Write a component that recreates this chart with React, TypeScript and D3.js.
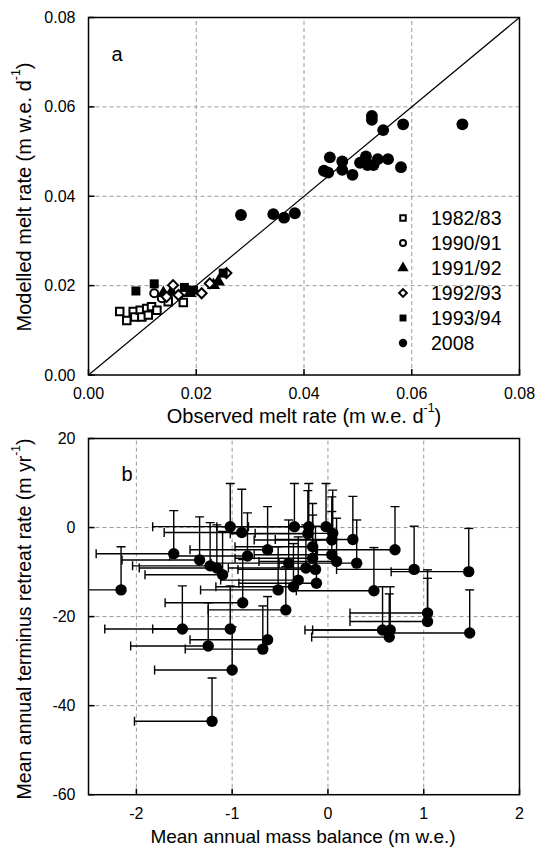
import React, { useEffect, useRef } from 'react';
import * as d3 from 'd3';

// panel a: observed vs modelled melt rate (m w.e. d-1), one pair of arrays per season
const obs8283 = [0.0058, 0.0071, 0.0083, 0.0086, 0.0096, 0.0099, 0.0108, 0.0111, 0.0117, 0.0127, 0.0148, 0.0176];
const mod8283 = [0.0142, 0.0122, 0.0142, 0.0130, 0.0145, 0.0130, 0.0149, 0.0134, 0.0153, 0.0145, 0.0164, 0.0162];
const obs9091 = [0.0122, 0.0136];
const mod9091 = [0.0183, 0.0172];
const obs9192 = [0.0139, 0.0154, 0.0188, 0.0232, 0.0241];
const mod9192 = [0.0183, 0.0186, 0.0183, 0.0201, 0.0209];
const obs9293 = [0.0145, 0.0157, 0.0167, 0.0210, 0.0225, 0.0256];
const mod9293 = [0.0175, 0.0201, 0.0179, 0.0183, 0.0205, 0.0228];
const obs9394 = [0.0088, 0.0122, 0.0178, 0.0195, 0.0250];
const mod9394 = [0.0188, 0.0204, 0.0196, 0.0190, 0.0228];
const obs2008 = [0.0283, 0.0343, 0.0363, 0.0383, 0.0437, 0.0445, 0.0448, 0.0471, 0.0471, 0.0490, 0.0504,
  0.0515, 0.0518, 0.0529, 0.0537, 0.0556, 0.0580, 0.0526, 0.0526, 0.0584, 0.0694, 0.0547];
const mod2008 = [0.0358, 0.0360, 0.0352, 0.0362, 0.0457, 0.0453, 0.0487, 0.0478, 0.0459, 0.0448, 0.0475,
  0.0489, 0.0470, 0.0470, 0.0483, 0.0483, 0.0465, 0.0580, 0.0571, 0.0561, 0.0561, 0.0548];

const seasonLabels = ['1982/83', '1990/91', '1991/92', '1992/93', '1993/94', '2008'];
const meltTicks = [0, 0.02, 0.04, 0.06, 0.08];

// panel b: mean annual mass balance (m w.e.) vs terminus retreat rate (m yr-1)
const massBalance = [-2.16, -1.61, -1.34, -1.23, -1.16, -1.10, -0.89, -1.52, -1.02, -1.25, -1.00, -1.21,
  -0.63, -0.68, -0.44, -0.52, -0.36, -0.63, -0.84, -0.41, -1.02, -0.90, -0.35, -0.20, -0.21, -0.02,
  0.05, 0.26, 0.70, 0.90, 1.47, 1.04, 1.04, 0.48, 0.57, 0.65, 0.64, 1.48, 0.30, 0.09, 0.04, 0.04,
  -0.16, -0.16, -0.13, -0.12, -0.23, -0.31];
const retreatRate = [-14.0, -5.9, -7.3, -8.6, -9.1, -10.6, -16.9, -22.8, -22.8, -26.6, -32.0, -43.5,
  -25.2, -27.3, -18.5, -14.0, -13.3, -5.0, -6.4, -8.0, 0.2, -1.1, 0.2, 0.2, -1.4, 0.2,
  -1.3, -2.7, -5.0, -9.4, -9.9, -19.2, -21.1, -14.2, -23.0, -23.0, -24.6, -23.7, -8.0, -7.6, -6.1, -2.8,
  -4.3, -6.9, -9.4, -12.5, -9.1, -11.8];
const massBalanceError = 0.81; // drawn to the left
const retreatError = 9.7; // drawn upward
const balanceTicks = [-2, -1, 0, 1, 2];
const retreatTicks = [-60, -40, -20, 0, 20];

const W = 538;
const H = 849;
const font = 'Arial, "Liberation Sans", sans-serif';

const App = () => {
  const svgRef = useRef(null);

  useEffect(() => {
    const svg = d3.select(svgRef.current);
    svg.selectAll('*').remove();
    svg.attr('width', W).attr('height', H).style('font-family', font);

    const left = 88.5;
    const right = 519.5;

    // ---------- panel a ----------
    const xA = d3.scaleLinear().domain([0, 0.08]).range([left, right]);
    const yA = d3.scaleLinear().domain([0, 0.08]).range([375, 17.5]);

    // ---------- panel b ----------
    const xB = d3.scaleLinear().domain([-2.5, 2]).range([left, right]);
    const yB = d3.scaleLinear().domain([-60, 20]).range([794.7, 438.5]);

    const grid = (g, xs, ys, xv, yv) => {
      g.selectAll('.gx').data(xv).enter().append('line')
        .attr('x1', d => xs(d)).attr('x2', d => xs(d))
        .attr('y1', ys.range()[0]).attr('y2', ys.range()[1])
        .attr('stroke', '#9a9a9a').attr('stroke-width', 1).attr('stroke-dasharray', '4,3');
      g.selectAll('.gy').data(yv).enter().append('line')
        .attr('y1', d => ys(d)).attr('y2', d => ys(d))
        .attr('x1', xs.range()[0]).attr('x2', xs.range()[1])
        .attr('stroke', '#9a9a9a').attr('stroke-width', 1).attr('stroke-dasharray', '4,3');
    };

    const frame = (g, xs, ys, xTicks, yTicks, xFmt, yFmt) => {
      const [x0, x1] = xs.range();
      const [y0, y1] = ys.range();
      g.append('rect')
        .attr('x', x0).attr('y', y1).attr('width', x1 - x0).attr('height', y0 - y1)
        .attr('fill', 'none').attr('stroke', 'black').attr('stroke-width', 1.5);
      // inward ticks, bottom and left
      g.selectAll('.tx').data(xTicks).enter().append('line')
        .attr('x1', d => xs(d)).attr('x2', d => xs(d))
        .attr('y1', y0).attr('y2', y0 - 6)
        .attr('stroke', 'black').attr('stroke-width', 1.5);
      g.selectAll('.ty').data(yTicks).enter().append('line')
        .attr('y1', d => ys(d)).attr('y2', d => ys(d))
        .attr('x1', x0).attr('x2', x0 + 6)
        .attr('stroke', 'black').attr('stroke-width', 1.5);
      g.selectAll('.lx').data(xTicks).enter().append('text')
        .attr('x', d => xs(d)).attr('y', y0 + 18.5)
        .attr('text-anchor', 'middle').attr('dominant-baseline', 'central')
        .style('font-size', '16px').text(xFmt);
      g.selectAll('.ly').data(yTicks).enter().append('text')
        .attr('x', x0 - 13).attr('y', d => ys(d))
        .attr('text-anchor', 'end').attr('dominant-baseline', 'central')
        .style('font-size', '16px').text(yFmt);
    };

    const title = (g, x, y, rot, main, sup, size) => {
      const t = g.append('text').attr('transform', `translate(${x}, ${y}) rotate(${rot})`)
        .attr('text-anchor', 'middle').attr('dominant-baseline', 'central')
        .style('font-size', `${size}px`);
      t.append('tspan').text(main);
      if (sup) {
        t.append('tspan').attr('dy', -8).style('font-size', `${size * 0.62}px`).text(sup);
        t.append('tspan').attr('dy', 8).text(')');
      }
    };

    const gA = svg.append('g');
    grid(gA, xA, yA, [0.02, 0.04, 0.06], [0.02, 0.04, 0.06]);

    // 1:1 line
    gA.append('line')
      .attr('x1', xA(0)).attr('y1', yA(0)).attr('x2', xA(0.08)).attr('y2', yA(0.08))
      .attr('stroke', 'black').attr('stroke-width', 1.2);

    const sym = (type, size) => d3.symbol().type(type).size(size)();
    const markers = [
      { d: sym(d3.symbolSquare, 56), fill: 'white', rot: 0, small: sym(d3.symbolSquare, 30) },
      { d: sym(d3.symbolCircle, 50), fill: 'white', rot: 0, small: sym(d3.symbolCircle, 28) },
      { d: sym(d3.symbolTriangle, 75), fill: 'black', rot: 0, small: sym(d3.symbolTriangle, 55) },
      { d: sym(d3.symbolSquare, 50), fill: 'white', rot: 45, small: sym(d3.symbolSquare, 30) },
      { d: sym(d3.symbolSquare, 81), fill: 'black', rot: 0, small: sym(d3.symbolSquare, 48) },
      { d: sym(d3.symbolCircle, 110), fill: 'black', rot: 0, small: sym(d3.symbolCircle, 55) },
    ];
    const seasons = [
      [obs8283, mod8283], [obs9091, mod9091], [obs9192, mod9192],
      [obs9293, mod9293], [obs9394, mod9394], [obs2008, mod2008],
    ];

    seasons.forEach(([xs, ys], i) => {
      const m = markers[i];
      gA.selectAll(`.s${i}`).data(xs.map((x, j) => [x, ys[j]])).enter().append('path')
        .attr('d', m.d)
        .attr('transform', d => `translate(${xA(d[0])},${yA(d[1])}) rotate(${m.rot})`)
        .attr('fill', m.fill)
        .attr('stroke', 'black')
        .attr('stroke-width', m.fill === 'white' ? 2 : 0);
    });

    frame(gA, xA, yA, meltTicks, meltTicks, d => d3.format('.2f')(d), d => d3.format('.2f')(d));

    // legend
    const legend = gA.append('g').attr('transform', 'translate(403, 218)');
    const items = legend.selectAll('.item').data(seasonLabels).enter().append('g')
      .attr('transform', (d, i) => `translate(0, ${i * 25})`);
    items.append('path')
      .attr('d', (d, i) => markers[i].small)
      .attr('transform', (d, i) => `rotate(${markers[i].rot})`)
      .attr('fill', (d, i) => markers[i].fill)
      .attr('stroke', 'black')
      .attr('stroke-width', (d, i) => (markers[i].fill === 'white' ? 2 : 0));
    items.append('text')
      .attr('x', 28).attr('y', 0).attr('dominant-baseline', 'central')
      .style('font-size', '19.5px').text(d => d);

    gA.append('text').attr('x', 117).attr('y', 54)
      .attr('text-anchor', 'middle').attr('dominant-baseline', 'central')
      .style('font-size', '20px').text('a');

    title(gA, 304, 416, 0, 'Observed melt rate (m w.e. d', '-1', 20);
    title(gA, 24, 197, -90, 'Modelled melt rate (m w.e. d', '-1', 20);

    // ---------- panel b drawing ----------
    const gB = svg.append('g');
    grid(gB, xB, yB, [-2, -1, 0, 1], [-40, -20, 0]);

    const pts = massBalance.map((x, i) => ({ x, y: retreatRate[i] }));
    const clip = gB.append('defs').append('clipPath').attr('id', 'clipB');
    clip.append('rect').attr('x', left).attr('y', yB(20)).attr('width', right - left).attr('height', yB(-60) - yB(20));
    const bars = gB.append('g').attr('clip-path', 'url(#clipB)');
    const cap = 4.5;

    // horizontal error bars (to the left)
    bars.selectAll('.hx').data(pts).enter().append('line')
      .attr('x1', d => xB(d.x - massBalanceError)).attr('x2', d => xB(d.x))
      .attr('y1', d => yB(d.y)).attr('y2', d => yB(d.y))
      .attr('stroke', 'black').attr('stroke-width', 1.4);
    bars.selectAll('.hc').data(pts).enter().append('line')
      .attr('x1', d => xB(d.x - massBalanceError)).attr('x2', d => xB(d.x - massBalanceError))
      .attr('y1', d => yB(d.y) - cap).attr('y2', d => yB(d.y) + cap)
      .attr('stroke', 'black').attr('stroke-width', 1.4);
    // vertical error bars (upward)
    bars.selectAll('.vy').data(pts).enter().append('line')
      .attr('x1', d => xB(d.x)).attr('x2', d => xB(d.x))
      .attr('y1', d => yB(d.y)).attr('y2', d => yB(d.y + retreatError))
      .attr('stroke', 'black').attr('stroke-width', 1.4);
    bars.selectAll('.vc').data(pts).enter().append('line')
      .attr('x1', d => xB(d.x) - cap).attr('x2', d => xB(d.x) + cap)
      .attr('y1', d => yB(d.y + retreatError)).attr('y2', d => yB(d.y + retreatError))
      .attr('stroke', 'black').attr('stroke-width', 1.4);

    gB.selectAll('.pt').data(pts).enter().append('circle')
      .attr('cx', d => xB(d.x)).attr('cy', d => yB(d.y)).attr('r', 5.7)
      .attr('fill', 'black');

    frame(gB, xB, yB, balanceTicks, retreatTicks, d => String(d), d => String(d));

    gB.append('text').attr('x', 127).attr('y', 474)
      .attr('text-anchor', 'middle').attr('dominant-baseline', 'central')
      .style('font-size', '20px').text('b');

    title(gB, 303, 836, 0, 'Mean annual mass balance (m w.e.)', null, 19);
    title(gB, 24, 619, -90, 'Mean annual terminus retreat rate (m yr', '-1', 19.5);
  }, []);

  return (
    <svg ref={svgRef} style={{ position: 'absolute', left: 0, top: 0, background: 'white' }}></svg>
  );
};

export default App;
